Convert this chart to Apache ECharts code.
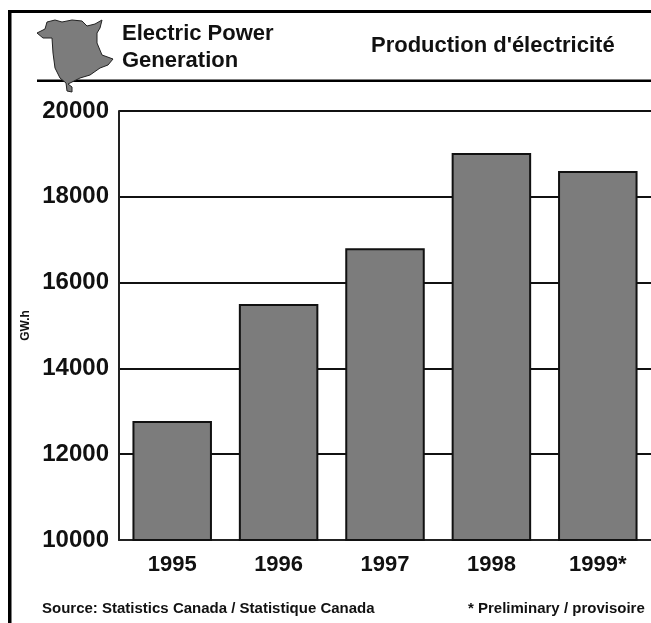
<!DOCTYPE html>
<html><head><meta charset="utf-8">
<style>html,body{margin:0;padding:0;background:#fff}#c{width:651px;height:623px}</style>
<script src="https://cdn.jsdelivr.net/npm/echarts@6/dist/echarts.min.js"></script>
</head><body><div id="c"></div>
<script>
const categories = ['1995','1996','1997','1998','1999*'];
const generation = [12775,15500,16800,19020,18600];
const yTicks = {min:10000,max:20000,interval:2000};
const titleFr = "Production d'électricité";
const sourceText = 'Source: Statistics Canada / Statistique Canada';
const noteText = '* Preliminary / provisoire';
const unit = 'GW.h';
const mapOutline = [[37,33],[45,29],[47,22],[55,20],[62,22],[72,20],[82,21],[87,26],[95,24],[102,20],[100,28],[97,33],[97,43],[102,55],[113,59],[108,65],[100,68],[90,75],[80,78],[72,82],[68,84],[72,87],[72,92],[67,91],[66,83],[60,78],[55,68],[53,53],[52,38],[43,38]];
const font = '"Liberation Sans", Arial, sans-serif';
const ink = '#111';
function txt(x,y,text,size){return {type:'text',x,y,style:{text,font:`bold ${size}px ${font}`,fill:ink,textVerticalAlign:'middle'}};}
const chart = echarts.init(document.getElementById('c'));
chart.setOption({
  animation:false,
  backgroundColor:'#fff',
  grid:{left:119,top:111,width:533.75,height:429,containLabel:false},
  xAxis:{type:'category',data:categories,
    axisTick:{show:false},
    axisLine:{lineStyle:{color:'#222',width:2}},
    axisLabel:{color:ink,fontFamily:font,fontSize:22,fontWeight:'bold',margin:14}},
  yAxis:{type:'value',min:yTicks.min,max:yTicks.max,interval:yTicks.interval,
    name:unit,nameLocation:'middle',nameGap:87,nameRotate:90,
    nameTextStyle:{color:ink,fontFamily:font,fontSize:12,fontWeight:'bold'},
    axisTick:{show:false},
    axisLine:{show:true,lineStyle:{color:'#222',width:2}},
    axisLabel:{color:ink,fontFamily:font,fontSize:24,fontWeight:'bold',margin:9,padding:[5,1,0,0],formatter:v=>String(v)},
    splitLine:{show:true,lineStyle:{color:'#111',width:2}}},
  series:[{type:'bar',data:generation,barWidth:79.5,
    itemStyle:{color:'#7c7c7c',borderColor:'#111',borderWidth:2}}],
  graphic:[
    {type:'rect',shape:{x:8,y:10,width:643,height:3},style:{fill:'#000'}},
    {type:'rect',shape:{x:8,y:10,width:3.5,height:613},style:{fill:'#000'}},
    {type:'rect',shape:{x:37,y:79.5,width:614,height:2.5},style:{fill:'#000'}},
    {type:'polygon',shape:{points:mapOutline},style:{fill:'#7c7c7c',stroke:'#222',lineWidth:1}},
    txt(122,34,'Electric Power',22),
    txt(122,61,'Generation',22),
    txt(371,46,titleFr,22),
    txt(42,609,sourceText,15),
    txt(468,609,noteText,15)
  ]
});
</script></body></html>
